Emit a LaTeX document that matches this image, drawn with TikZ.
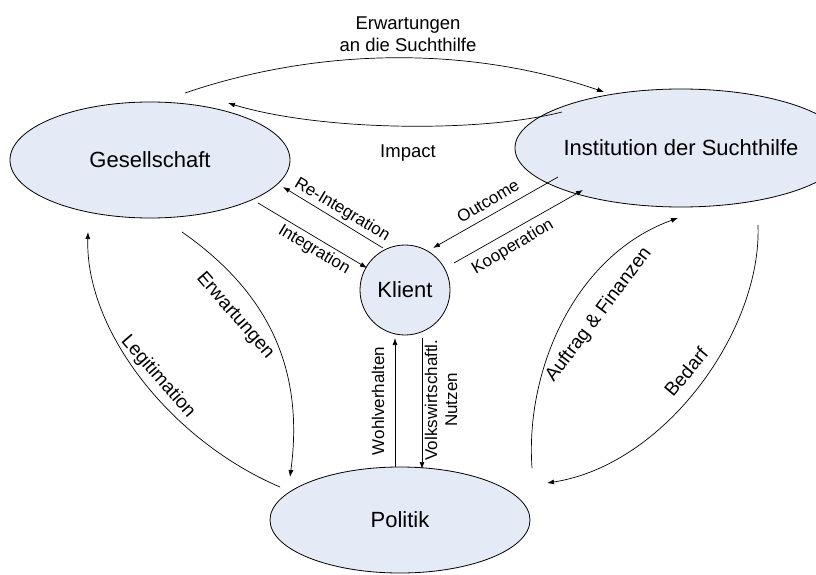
\documentclass[tikz,border=0pt]{standalone}
\usepackage{fontspec}
\setmainfont{Liberation Sans}
\usetikzlibrary{shapes.geometric,arrows.meta,calc}
\definecolor{nodefill}{RGB}{228,234,246}
\begin{document}
\begin{tikzpicture}[x=1pt,y=-1pt,
  bubble/.style={ellipse,draw=black,fill=nodefill,line width=0.8pt,inner sep=0pt,outer sep=0pt,font=\fontsize{22}{26}\selectfont},
  conn/.style={line width=0.7pt,-{Latex[length=7pt,width=5pt]}},
  lbl/.style={font=\fontsize{17}{20}\selectfont,inner sep=0pt,align=center},
  biglbl/.style={font=\fontsize{19}{22}\selectfont,inner sep=0pt,align=center},
  toplbl/.style={font=\fontsize{18.5}{21.5}\selectfont,align=center,inner sep=0pt}]
\useasboundingbox (0,0) rectangle (816,575);

% main nodes
\node[bubble,minimum width=280pt,minimum height=116pt] (ges) at (150,160) {Gesellschaft};
\node[bubble,minimum width=268pt,minimum height=118pt] (inst) at (681,148) {Institution der Suchthilfe};
\node[bubble,circle,minimum size=90pt] (kl) at (405,290) {Klient};
\node[bubble,minimum width=260pt,minimum height=106pt] (pol) at (400,520) {Politik};

% top arcs
\draw[conn] ($(ges)+(35,-67)$) .. controls (320,47) and (470,46) .. ($(inst)+(-77,-56)$);
\draw[conn] ($(inst)+(-119,-36)$) .. controls (480,133) and (320,131) .. ($(ges)+(78,-57)$);
\node[toplbl] (lErwS) at (408,34) {Erwartungen\\an die Suchthilfe};
\node[toplbl] (lImp) at (408,153) {Impact};

% Klient <-> Gesellschaft
\draw[conn] ($(kl)+(-22,-42)$) -- ($(ges)+(133,27)$);
\draw[conn] ($(ges)+(108,43)$) -- ($(kl)+(-38,-22)$);
\node[lbl,rotate=-31] (lReInt) at (342,210) {Re-Integration};
\node[lbl,rotate=-31] (lInt) at (314,250) {Integration};

% Klient <-> Institution
\draw[conn] ($(inst)+(-123,29)$) -- ($(kl)+(28,-42)$);
\draw[conn] ($(kl)+(49,-27)$) -- ($(inst)+(-98,42)$);
\node[lbl,rotate=31] (lOut) at (488,201) {Outcome};
\node[lbl,rotate=31] (lKoop) at (513,247) {Kooperation};

% Klient <-> Politik
\draw[conn] ($(pol)+(-5,-53)$) -- ($(kl)+(-10,48)$);
\draw[conn] ($(kl)+(17,48)$) -- ($(pol)+(22,-51)$);
\node[lbl,rotate=90] (lWohl) at (378,401) {Wohlverhalten};
\node[lbl,rotate=90] (lVolk) at (441,400) {Volkswirtschaftl.\\Nutzen};

% Gesellschaft <-> Politik
\draw[conn] ($(pol)+(-120,-33)$) .. controls (170,440) and (85,330) .. ($(ges)+(-62,72)$);
\draw[conn] ($(ges)+(32,72)$) .. controls (265,290) and (305,365) .. ($(pol)+(-110,-43)$);
\node[biglbl,rotate=-49] (lLeg) at (158,377) {Legitimation};
\node[biglbl,rotate=-49] (lErw) at (235,316) {Erwartungen};

% Institution <-> Politik
\draw[conn] ($(pol)+(132,-52)$) .. controls (525,370) and (575,255) .. ($(inst)+(-3,70)$);
\draw[conn] ($(inst)+(77,77)$) .. controls (762,330) and (665,465) .. ($(pol)+(147,-37)$);
\node[biglbl,rotate=53] (lAuf) at (599,315) {Auftrag \& Finanzen};
\node[biglbl,rotate=50] (lBed) at (686,372) {Bedarf};
\end{tikzpicture}
\end{document}
